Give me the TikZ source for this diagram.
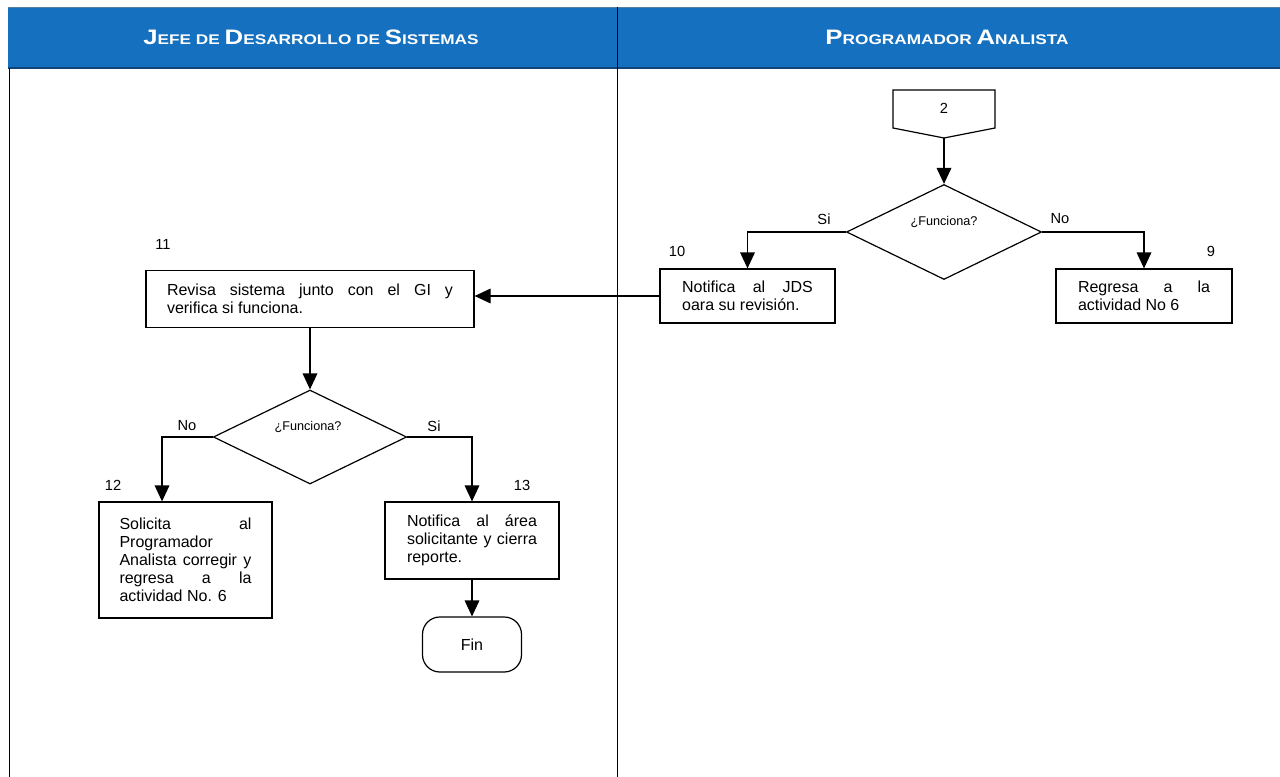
\documentclass[tikz,border=0pt]{standalone}
\usepackage{fontspec}
\usepackage{graphicx}
\setmainfont{Liberation Sans}
\usetikzlibrary{shapes.geometric,arrows.meta,calc}
\definecolor{hdrblue}{RGB}{22,112,192}
\definecolor{hdrdark}{RGB}{14,70,120}
\newcommand{\hbg}[1]{{\fontsize{15.7}{16}\selectfont #1}}
\newcommand{\hsm}[1]{{\fontsize{10.5}{12}\selectfont #1}}
\newcommand{\sline}[2]{\makebox[#1][s]{#2}}
\tikzset{
  laneline/.style={line width=0.7pt},
  proc/.style={draw, line width=0.9pt, font=\fontsize{12}{13.5}\selectfont, align=left, inner sep=0pt},
  dec/.style={diamond, draw, line width=0.9pt, inner sep=0pt},
  arr/.style={line width=0.9pt, -{Triangle[length=12pt,width=11pt]}},
  lbl/.style={font=\fontsize{11}{12}\selectfont, inner sep=0pt},
  qtext/.style={font=\fontsize{9.5}{11}\selectfont, inner sep=0pt},
  hdr/.style={text=white, font=\bfseries, inner sep=0pt},
  term/.style={draw, line width=0.9pt, rounded corners=13pt, font=\fontsize{12}{13.5}\selectfont},
}
\begin{document}
\begin{tikzpicture}[x=0.75pt,y=-0.75pt]
\useasboundingbox (0,0) rectangle (1280,777);
% header
\fill[hdrblue] (8,7) rectangle (1280,68);
\draw[hdrdark, line width=1pt] (8,68) -- (1280,68);
\draw[hdrdark!70, line width=0.6pt] (8,7) -- (1280,7);
\node[hdr] (h1) at (311,37) {\scalebox{1.23}[1]{\hbg{J}\hsm{EFE DE }\hbg{D}\hsm{ESARROLLO DE }\hbg{S}\hsm{ISTEMAS}}};
\node[hdr] (h2) at (947,37) {\scalebox{1.23}[1]{\hbg{P}\hsm{ROGRAMADOR }\hbg{A}\hsm{NALISTA}}};
% lanes
\draw[laneline] (9,68) -- (9,777);
\draw[laneline] (617,7) -- (617,777);

% off-page connector 2
\coordinate (c2tip) at (944,138);
\draw[line width=0.9pt] (893,90) -- (995,90) -- (995,128) -- (c2tip) -- (893,128) -- cycle;
\node[lbl] (c2) at (944,108) {2};

% decision 1
\node[dec, minimum width=146.25pt, minimum height=71.25pt] (d1) at (944,232) {};
\node[qtext] (q1) at (944,222) {¿Funciona?};
\node[lbl] (si1) at (824,219) {Si};
\node[lbl] (no1) at (1060,219) {No};

% boxes right lane
\node[proc, minimum width=131.25pt, minimum height=40.5pt] (box10) at (747.5,296)
  {\sline{98pt}{Notifica al JDS}\\oara su revisión.};
\node[proc, minimum width=132pt, minimum height=40.5pt] (box9) at (1144,296)
  {\sline{99pt}{Regresa a la}\\actividad No 6};
\node[lbl] (n10) at (677,251) {10};
\node[lbl] (n9) at (1211,251) {9};

% left lane
\node[proc, minimum width=246pt, minimum height=42.75pt] (box11) at (310,299)
  {\sline{214.5pt}{Revisa sistema junto con el GI y}\\verifica si funciona.};
\node[lbl] (n11) at (163,244) {11};

\node[dec, minimum width=145pt, minimum height=70.5pt] (d2) at (310,437) {};
\node[qtext] (q2) at (308,427) {¿Funciona?};
\node[lbl] (no2) at (187,426) {No};
\node[lbl] (si2) at (434,426) {Si};

\node[proc, minimum width=129.75pt, minimum height=87pt] (box12) at (185.5,560)
  {\sline{99pt}{Solicita al}\\Programador\\\sline{99pt}{Analista corregir y}\\\sline{99pt}{regresa a la}\\actividad No. 6};
\node[lbl] (n12) at (113,485) {12};

\node[proc, minimum width=130.5pt, minimum height=57.75pt] (box13) at (472,540.5)
  {\sline{97.5pt}{Notifica al área}\\\sline{97.5pt}{solicitante y cierra}\\reporte.};
\node[lbl] (n13) at (522,485) {13};

\node[term, minimum width=74.25pt, minimum height=41.25pt] (fin) at (472,644.5) {Fin};

% connectors
\draw[arr] (c2tip) -- (d1.north);
\draw[arr] (d1.west) -| (box10.north);
\draw[arr] (d1.east) -| (box9.north);
\draw[arr] (box10.west) -- (box10.west -| box11.east);
\draw[arr] (box11.south) -- (d2.north);
\draw[arr] (d2.west) -| ([xshift=-17.6pt]box12.north);
\draw[arr] (d2.east) -| (box13.north);
\draw[arr] (box13.south) -- (fin.north);
\end{tikzpicture}
\end{document}
